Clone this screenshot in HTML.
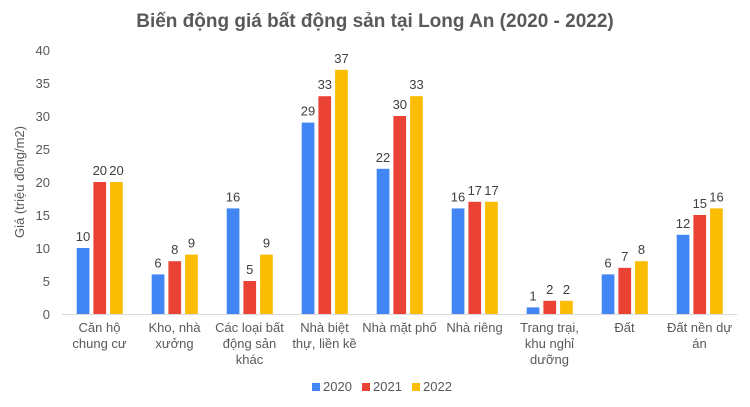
<!DOCTYPE html>
<html><head><meta charset="utf-8"><style>
body{margin:0;background:#fff}
svg{display:block;font-family:"Liberation Sans",Arial,sans-serif}
</style></head><body>
<svg width="750" height="407" viewBox="0 0 750 407">
<rect width="750" height="407" fill="#fff"/>
<text x="375" y="27" text-anchor="middle" font-size="19" font-weight="bold" fill="#595959">Biến động giá bất động sản tại Long An (2020 - 2022)</text>
<g font-size="13" fill="#595959" text-anchor="end">
<text x="50" y="319">0</text><text x="50" y="286">5</text><text x="50" y="253">10</text><text x="50" y="220">15</text><text x="50" y="187">20</text><text x="50" y="154">25</text><text x="50" y="121">30</text><text x="50" y="88">35</text><text x="50" y="55">40</text>
</g>
<text transform="translate(24,182) rotate(-90)" text-anchor="middle" font-size="13" fill="#595959">Giá (triệu đồng/m2)</text>
<line x1="62" y1="314.5" x2="737" y2="314.5" stroke="#d9d9d9" stroke-width="1"/>
<g>
<rect x="76.7" y="248" width="12.7" height="66" fill="#4285f4"/>
<rect x="93.4" y="182" width="12.7" height="132" fill="#ea4335"/>
<rect x="110.1" y="182" width="12.7" height="132" fill="#fbbc04"/>
<rect x="151.7" y="274.4" width="12.7" height="39.6" fill="#4285f4"/>
<rect x="168.4" y="261.2" width="12.7" height="52.8" fill="#ea4335"/>
<rect x="185.1" y="254.6" width="12.7" height="59.4" fill="#fbbc04"/>
<rect x="226.7" y="208.4" width="12.7" height="105.6" fill="#4285f4"/>
<rect x="243.4" y="281" width="12.7" height="33" fill="#ea4335"/>
<rect x="260.1" y="254.6" width="12.7" height="59.4" fill="#fbbc04"/>
<rect x="301.7" y="122.6" width="12.7" height="191.4" fill="#4285f4"/>
<rect x="318.4" y="96.2" width="12.7" height="217.8" fill="#ea4335"/>
<rect x="335.1" y="69.8" width="12.7" height="244.2" fill="#fbbc04"/>
<rect x="376.7" y="168.8" width="12.7" height="145.2" fill="#4285f4"/>
<rect x="393.4" y="116" width="12.7" height="198" fill="#ea4335"/>
<rect x="410.1" y="96.2" width="12.7" height="217.8" fill="#fbbc04"/>
<rect x="451.7" y="208.4" width="12.7" height="105.6" fill="#4285f4"/>
<rect x="468.4" y="201.8" width="12.7" height="112.2" fill="#ea4335"/>
<rect x="485.1" y="201.8" width="12.7" height="112.2" fill="#fbbc04"/>
<rect x="526.7" y="307.4" width="12.7" height="6.6" fill="#4285f4"/>
<rect x="543.4" y="300.8" width="12.7" height="13.2" fill="#ea4335"/>
<rect x="560.1" y="300.8" width="12.7" height="13.2" fill="#fbbc04"/>
<rect x="601.7" y="274.4" width="12.7" height="39.6" fill="#4285f4"/>
<rect x="618.4" y="267.8" width="12.7" height="46.2" fill="#ea4335"/>
<rect x="635.1" y="261.2" width="12.7" height="52.8" fill="#fbbc04"/>
<rect x="676.7" y="234.8" width="12.7" height="79.2" fill="#4285f4"/>
<rect x="693.4" y="215" width="12.7" height="99" fill="#ea4335"/>
<rect x="710.1" y="208.4" width="12.7" height="105.6" fill="#fbbc04"/>
</g>
<g font-size="13" fill="#404040" text-anchor="middle">
<text x="83" y="241">10</text><text x="99.8" y="175">20</text><text x="116.5" y="175">20</text>
<text x="158" y="267.4">6</text><text x="174.8" y="254.2">8</text><text x="191.5" y="247.6">9</text>
<text x="233" y="201.4">16</text><text x="249.8" y="274">5</text><text x="266.5" y="247.6">9</text>
<text x="308" y="115.6">29</text><text x="324.8" y="89.2">33</text><text x="341.5" y="62.8">37</text>
<text x="383" y="161.8">22</text><text x="399.8" y="109">30</text><text x="416.5" y="89.2">33</text>
<text x="458" y="201.4">16</text><text x="474.8" y="194.8">17</text><text x="491.5" y="194.8">17</text>
<text x="533" y="300.4">1</text><text x="549.8" y="293.8">2</text><text x="566.5" y="293.8">2</text>
<text x="608" y="267.4">6</text><text x="624.8" y="260.8">7</text><text x="641.5" y="254.2">8</text>
<text x="683" y="227.8">12</text><text x="699.8" y="208">15</text><text x="716.5" y="201.4">16</text>
</g>
<g font-size="13" fill="#595959" text-anchor="middle">
<text x="99.5" y="332">Căn hộ</text><text x="99.5" y="348">chung cư</text>
<text x="174.5" y="332">Kho, nhà</text><text x="174.5" y="348">xưởng</text>
<text x="249.5" y="332">Các loại bất</text><text x="249.5" y="348">động sản</text><text x="249.5" y="364">khác</text>
<text x="324.5" y="332">Nhà biệt</text><text x="324.5" y="348">thự, liền kề</text>
<text x="399.5" y="332">Nhà mặt phố</text>
<text x="474.5" y="332">Nhà riêng</text>
<text x="549.5" y="332">Trang trại,</text><text x="549.5" y="348">khu nghỉ</text><text x="549.5" y="364">dưỡng</text>
<text x="624.5" y="332">Đất</text>
<text x="699.5" y="332">Đất nền dự</text><text x="699.5" y="348">án</text>
</g>
<g font-size="13" fill="#595959">
<rect x="312" y="383" width="8" height="8" fill="#4285f4"/><text x="323" y="391">2020</text>
<rect x="362" y="383" width="8" height="8" fill="#ea4335"/><text x="373" y="391">2021</text>
<rect x="412" y="383" width="8" height="8" fill="#fbbc04"/><text x="423" y="391">2022</text>
</g>
</svg>
</body></html>
